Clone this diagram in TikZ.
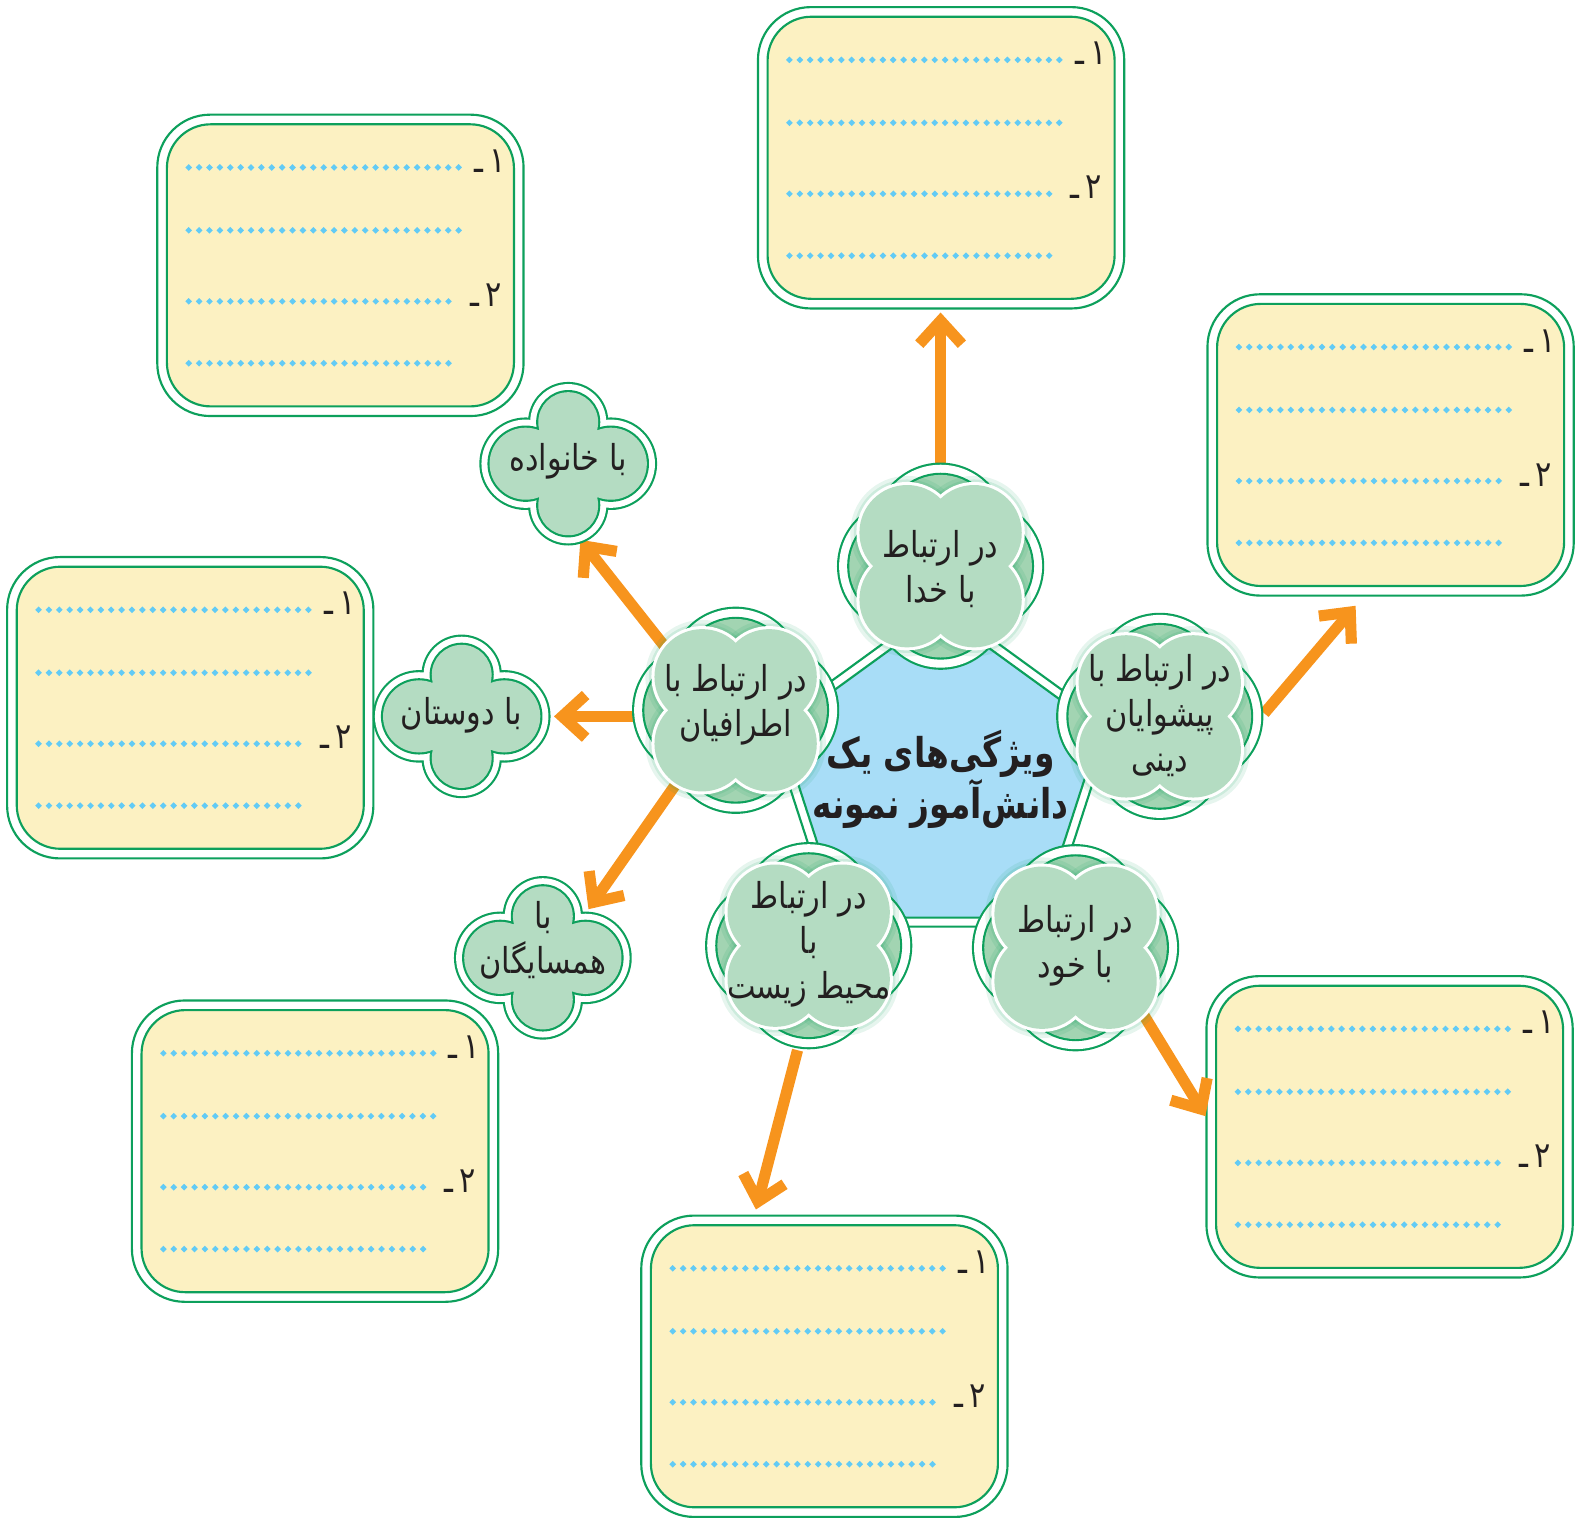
\documentclass[tikz,border=0pt]{standalone}
\usepackage{fontspec}
\usepackage{graphicx}
\newfontfamily\arabicfont[Script=Arabic]{DejaVu Sans}
\TeXXeTstate=1
\usetikzlibrary{arrows.meta}
\definecolor{gline}{HTML}{0DA05C}
\definecolor{boxfill}{HTML}{FCF1C2}
\definecolor{cloudfill}{HTML}{B4DCC2}
\definecolor{backfill}{HTML}{A2D4B2}
\definecolor{pentfill}{HTML}{A8DDF7}
\definecolor{arrowc}{HTML}{F7941D}
\definecolor{dotc}{HTML}{62CBF5}
\definecolor{txt}{HTML}{231F20}
\newcommand{\fa}[1]{{\arabicfont\scalebox{0.85}[1]{\beginR #1\endR}}}
\newcommand{\fab}[1]{{\arabicfont\bfseries\scalebox{0.8}[1]{\beginR #1\endR}}}
% answer box: name, x, y of outer top-left corner
\newcommand{\qbox}[3]{%
  \draw[gline, line width=0.6pt, fill=white, rounded corners=5.2mm] (#2,#3) rectangle ++(361,297);
  \draw[gline, line width=0.6pt, fill=boxfill, rounded corners=4.3mm] (#2+9.5,#3+9.5) rectangle ++(342,278);
  \coordinate (#1) at (#2+180.5,#3+148.5);
  \fill[dotc] \foreach \i in {0,...,26}{ (#2+31+\i*10.23,#3+52) +(0,3.3) -- +(3.3,0) -- +(0,-3.3) -- +(-3.3,0) -- cycle };
  \fill[dotc] \foreach \i in {0,...,26}{ (#2+31+\i*10.23,#3+114) +(0,3.3) -- +(3.3,0) -- +(0,-3.3) -- +(-3.3,0) -- cycle };
  \fill[dotc] \foreach \i in {0,...,25}{ (#2+31+\i*10.24,#3+184) +(0,3.3) -- +(3.3,0) -- +(0,-3.3) -- +(-3.3,0) -- cycle };
  \fill[dotc] \foreach \i in {0,...,25}{ (#2+31+\i*10.24,#3+245) +(0,3.3) -- +(3.3,0) -- +(0,-3.3) -- +(-3.3,0) -- cycle };
  \node[lab, anchor=base east] (#1a) at (#2+344,#3+57) {\fa{۱\kern2pt ـ}};
  \node[lab, anchor=base east] (#1b) at (#2+340,#3+189) {\fa{۲\kern2pt ـ}};
}
% small clover: x, y
\newcommand{\smallcloud}[2]{%
  \foreach \dx/\dy/\r/\R in {0/-41/29.5/37.5, 0/41/29.5/37.5, -42/0/35.5/43.5, 42/0/35.5/43.5, 0/0/44/52}
    {\draw[gline, line width=1.2pt] (#1+\dx,#2+\dy) circle[radius=\R];}
  \foreach \dx/\dy/\r/\R in {0/-41/29.5/37.5, 0/41/29.5/37.5, -42/0/35.5/43.5, 42/0/35.5/43.5, 0/0/44/52}
    {\fill[white] (#1+\dx,#2+\dy) circle[radius=\R];}
  \foreach \dx/\dy/\r/\R in {0/-41/29.5/37.5, 0/41/29.5/37.5, -42/0/35.5/43.5, 42/0/35.5/43.5, 0/0/44/52}
    {\draw[gline, line width=1.2pt] (#1+\dx,#2+\dy) circle[radius=\r];}
  \foreach \dx/\dy/\r/\R in {0/-41/29.5/37.5, 0/41/29.5/37.5, -42/0/35.5/43.5, 42/0/35.5/43.5, 0/0/44/52}
    {\fill[cloudfill] (#1+\dx,#2+\dy) circle[radius=\r];}
}
% big double clover: x, y
\newcommand{\bigcloud}[2]{%
  \foreach \dx/\dy in {0/-36, 0/36, -36/0, 36/0}
    {\draw[gline, line width=1.2pt] (#1+\dx,#2+\dy) circle[radius=64];}
  \foreach \dx/\dy in {0/-36, 0/36, -36/0, 36/0}
    {\fill[white] (#1+\dx,#2+\dy) circle[radius=64];}
  \foreach \dx/\dy in {0/-36, 0/36, -36/0, 36/0}
    {\draw[gline, line width=1.2pt] (#1+\dx,#2+\dy) circle[radius=54];}
  \foreach \dx/\dy in {0/-36, 0/36, -36/0, 36/0}
    {\fill[backfill] (#1+\dx,#2+\dy) circle[radius=54];}
  \foreach \dx/\dy in {-33/-33, 33/-33, -33/33, 33/33}
    {\draw[gline, opacity=0.10, line width=1.8mm] (#1+\dx,#2+\dy) circle[radius=47];
     \draw[gline, opacity=0.12, line width=1.1mm] (#1+\dx,#2+\dy) circle[radius=47];}
  \foreach \dx/\dy in {-33/-33, 33/-33, -33/33, 33/33}
    {\draw[white, line width=0.6mm] (#1+\dx,#2+\dy) circle[radius=47];}
  \foreach \dx/\dy in {-33/-33, 33/-33, -33/33, 33/33}
    {\fill[cloudfill] (#1+\dx,#2+\dy) circle[radius=47];}
}
\begin{document}
\begin{tikzpicture}[x=0.01cm, y=-0.01cm,
  lab/.style={text=txt, font=\fontsize{10}{12}\selectfont, inner sep=0pt},
  ctext/.style={text=txt, font=\fontsize{10}{12.6}\selectfont, align=center, inner sep=0pt},
  arr/.style={arrowc, line width=1.1mm, -{Straight Barb[length=2.3mm, width=4.2mm]}}]
\useasboundingbox (0,0) rectangle (1568,1496);

% boxes
\qbox{bTop}{747}{7}
\qbox{bTL}{155}{113}
\qbox{bR}{1190}{290}
\qbox{bL}{7}{549}
\qbox{bBL}{130}{986}
\qbox{bB}{632}{1198}
\qbox{bBR}{1189}{962}

% arrow end points
\coordinate (s1) at (927,458);  \coordinate (e1) at (927,308);
\coordinate (s2) at (1246,703); \coordinate (e2) at (1336,597);
\coordinate (s3) at (1127,1000);\coordinate (e3) at (1188,1100);
\coordinate (s4) at (786,1035); \coordinate (e4) at (745,1192);
\coordinate (s5) at (655,637);  \coordinate (e5) at (572,532);
\coordinate (s6) at (627,706);  \coordinate (e6) at (546,706);
\coordinate (s7) at (666,773);  \coordinate (e7) at (580,896);
\foreach \k in {1,...,7} {\draw[arr] (s\k) -- (e\k);}

% pentagon
\draw[gline, line width=0.6pt, fill=white]
  (927,770) +(0,-177) -- +(-168.3,-54.7) -- +(-104,143.2) -- +(104,143.2) -- +(168.3,-54.7) -- cycle;
\draw[gline, line width=0.6pt, fill=pentfill]
  (927,770) +(0,-166) -- +(-157.9,-51.3) -- +(-97.6,134.3) -- +(97.6,134.3) -- +(157.9,-51.3) -- cycle;

% main clouds
\bigcloud{927}{558}
\node[ctext] (cTop) at (927,561) {\fa{در ارتباط}\\\fa{با خدا}};
\bigcloud{1143}{706}
\node[ctext] (cRight) at (1143,705) {\fa{در ارتباط با}\\\fa{پیشوایان}\\\fa{دینی}};
\bigcloud{725}{700}
\node[ctext] (cLeft) at (725,695) {\fa{در ارتباط با}\\\fa{اطرافیان}};
\bigcloud{797}{932}
\node[ctext] (cBL) at (797,931) {\fa{در ارتباط}\\\fa{با}\\\fa{محیط زیست}};
\bigcloud{1060}{934}
\node[ctext] (cBR) at (1060,932) {\fa{در ارتباط}\\\fa{با خود}};

\node[text=txt, font=\fontsize{11.5}{14.5}\selectfont, align=center, inner sep=0pt] (center) at (927,768)
  {\fab{ویژگی‌های یک}\\\fab{دانش‌آموز نمونه}};

% small clouds
\smallcloud{560}{457}
\node[ctext] (sFam) at (560,455) {\fa{با خانواده}};
\smallcloud{455}{706}
\node[ctext] (sFr) at (455,705) {\fa{با دوستان}};
\smallcloud{535}{944}
\node[ctext] (sNb) at (535,927) {\fa{با}\\\fa{همسایگان}};
\end{tikzpicture}
\end{document}
